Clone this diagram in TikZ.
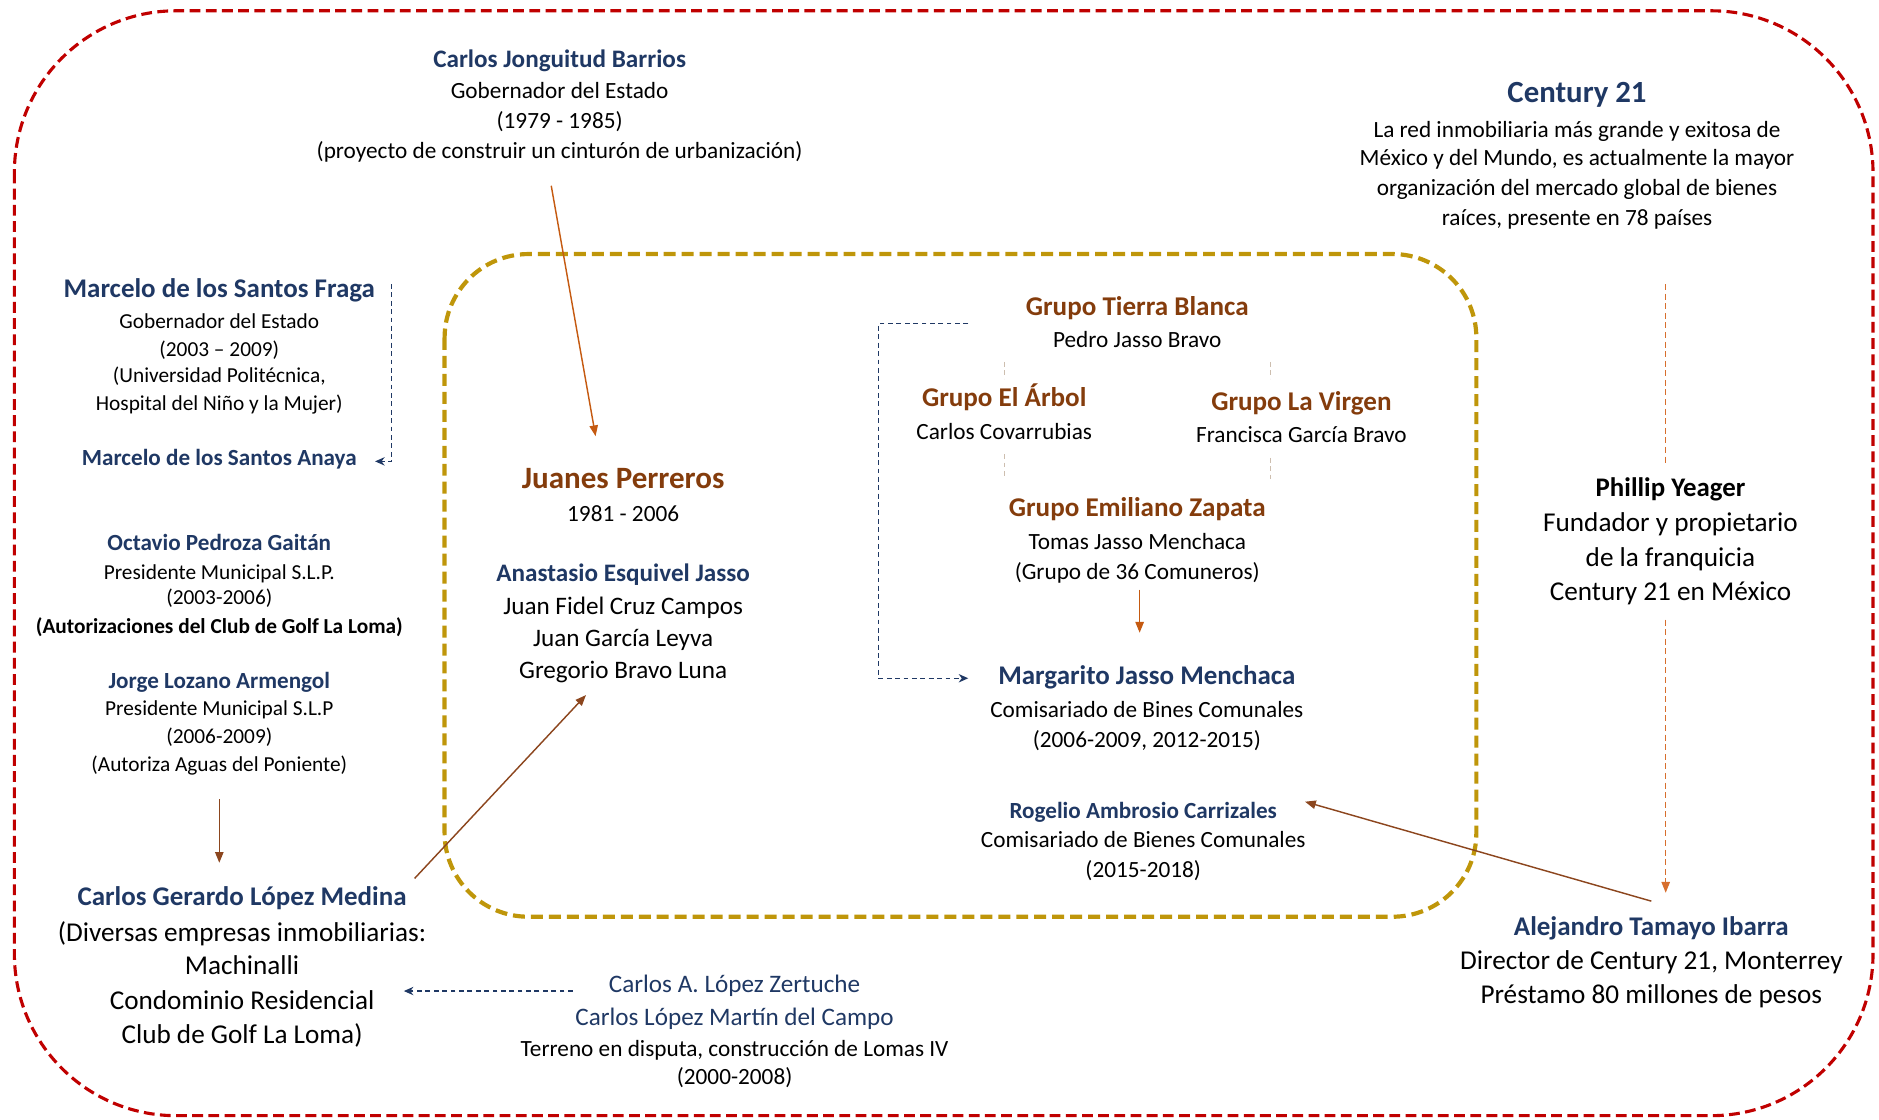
\documentclass[tikz,border=0pt]{standalone}
\usepackage{fontspec}
\setmainfont{Carlito}
\usetikzlibrary{arrows.meta}
\definecolor{navy}{RGB}{31,56,100}
\definecolor{tbrown}{RGB}{132,60,12}
\definecolor{aorange}{RGB}{197,90,17}
\definecolor{abrown}{RGB}{140,70,30}
\definecolor{dorange}{RGB}{215,110,45}
\definecolor{outred}{RGB}{192,0,0}
\definecolor{ingold}{RGB}{191,150,10}
\definecolor{faint}{RGB}{205,190,175}
\begin{document}
\begin{tikzpicture}[x=1pt,y=-1pt,
  txt/.style={inner sep=0pt,anchor=mid,yshift=-5pt},
  bodyS/.style={txt,font=\fontsize{17.8}{22}\selectfont},
  body/.style={txt,font=\fontsize{19.4}{24}\selectfont},
  bodyM/.style={txt,font=\fontsize{21}{26}\selectfont},
  bodyL/.style={txt,font=\fontsize{22.7}{28}\selectfont},
  ttlS/.style={txt,font=\fontsize{19.3}{24}\selectfont\bfseries,text=navy},
  ttlM/.style={txt,font=\fontsize{21}{26}\selectfont\bfseries,text=navy},
  ttlL/.style={txt,font=\fontsize{22.5}{28}\selectfont\bfseries,text=navy},
  ttlXL/.style={txt,font=\fontsize{25.7}{30}\selectfont\bfseries,text=navy},
  grp/.style={txt,font=\fontsize{22.6}{28}\selectfont\bfseries,text=tbrown},
  solidarrow/.style={line width=1.2pt,-{Triangle[length=9pt,width=7pt]}},
  navydash/.style={navy,line width=1pt,dash pattern=on 4pt off 3pt},
  navytip/.style={-{Stealth[length=8pt,width=7pt]}},
]
\useasboundingbox (0,0) rectangle (1568,934);
% frames
\draw[outred,line width=2.6pt,dash pattern=on 9pt off 4.5pt,rounded corners=135pt]
  (12,9) rectangle (1563,931);
\draw[ingold,line width=3.5pt,dash pattern=on 10pt off 5pt,rounded corners=70pt]
  (371,212) rectangle (1232,765);

% Carlos Jonguitud Barrios
\node[ttlM] (cjb) at (467,49) {Carlos Jonguitud Barrios};
\node[body] (cjb1) at (467,75) {Gobernador del Estado};
\node[body] (cjb2) at (467,100) {(1979 - 1985)};
\node[body] (cjb3) at (467,125) {(proyecto de construir un cinturón de urbanización)};

% Century 21
\node[ttlXL] (c21) at (1316,78) {Century 21};
\node[body] (c21a) at (1316,107) {La red inmobiliaria más grande y exitosa de};
\node[body] (c21b) at (1316,131) {México y del Mundo, es actualmente la mayor};
\node[body] (c21c) at (1316,156) {organización del mercado global de bienes};
\node[body] (c21d) at (1316,181) {raíces, presente en 78 países};

% Marcelo
\node[ttlL] (msf) at (183,241) {Marcelo de los Santos Fraga};
\node[bodyS] (msf1) at (183,267) {Gobernador del Estado};
\node[bodyS] (msf2) at (183,290) {(2003 – 2009)};
\node[bodyS] (msf3) at (183,312) {(Universidad Politécnica,};
\node[bodyS] (msf4) at (183,335) {Hospital del Niño y la Mujer)};
\node[ttlS] (msa) at (183,381) {Marcelo de los Santos Anaya};

% Octavio
\node[ttlS] (opg) at (183,452) {Octavio Pedroza Gaitán};
\node[bodyS] (opg1) at (183,476) {Presidente Municipal S.L.P.};
\node[bodyS] (opg2) at (183,497) {(2003-2006)};
\node[bodyS,font=\fontsize{17.8}{22}\selectfont\bfseries] (opg3) at (183,521) {(Autorizaciones del Club de Golf La Loma)};

% Jorge
\node[ttlS] (jla) at (183,567) {Jorge Lozano Armengol};
\node[bodyS] (jla1) at (183,590) {Presidente Municipal S.L.P};
\node[bodyS] (jla2) at (183,613) {(2006-2009)};
\node[bodyS] (jla3) at (183,636) {(Autoriza Aguas del Poniente)};

% Carlos Gerardo
\node[ttlL] (cgl) at (202,748) {Carlos Gerardo López Medina};
\node[bodyL] (cgl1) at (202,778) {(Diversas empresas inmobiliarias:};
\node[bodyL] (cgl2) at (202,806) {Machinalli};
\node[bodyL] (cgl3) at (202,835) {Condominio Residencial};
\node[bodyL] (cgl4) at (202,863) {Club de Golf La Loma)};

% Juanes Perreros
\node[txt,font=\fontsize{25.9}{30}\selectfont\bfseries,text=tbrown] (jp) at (520,400) {Juanes Perreros};
\node[body] (jp1) at (520,428) {1981 - 2006};
\node[ttlM] (aej) at (520,478) {Anastasio Esquivel Jasso};
\node[bodyM] (aej1) at (520,505) {Juan Fidel Cruz Campos};
\node[bodyM] (aej2) at (520,532) {Juan García Leyva};
\node[bodyM] (aej3) at (520,559) {Gregorio Bravo Luna};

% Zertuche
\node[bodyM,text=navy] (clz) at (613,821) {Carlos A. López Zertuche};
\node[bodyM,text=navy] (clz1) at (613,848) {Carlos López Martín del Campo};
\node[body] (clz2) at (613,874) {Terreno en disputa, construcción de Lomas IV};
\node[body] (clz3) at (613,898) {(2000-2008)};

% Grupos
\node[grp] (gtb) at (949,256) {Grupo Tierra Blanca};
\node[body] (gtb1) at (949,283) {Pedro Jasso Bravo};
\node[grp] (gea) at (838,332) {Grupo El Árbol};
\node[body] (gea1) at (838,359) {Carlos Covarrubias};
\node[grp] (glv) at (1086,335) {Grupo La Virgen};
\node[body] (glv1) at (1086,362) {Francisca García Bravo};
\node[grp] (gez) at (949,424) {Grupo Emiliano Zapata};
\node[body] (gez1) at (949,451) {Tomas Jasso Menchaca};
\node[body] (gez2) at (949,476) {(Grupo de 36 Comuneros)};

% Margarito
\node[ttlL] (mjm) at (957,564) {Margarito Jasso Menchaca};
\node[body] (mjm1) at (957,591) {Comisariado de Bines Comunales};
\node[body] (mjm2) at (957,616) {(2006-2009, 2012-2015)};

% Rogelio
\node[ttlS] (rac) at (954,676) {Rogelio Ambrosio Carrizales};
\node[body] (rac1) at (954,700) {Comisariado de Bienes Comunales};
\node[body] (rac2) at (954,725) {(2015-2018)};

% Phillip Yeager
\node[txt,font=\fontsize{22.4}{28}\selectfont\bfseries] (py) at (1394,407) {Phillip Yeager};
\node[bodyL] (py1) at (1394,436) {Fundador y propietario};
\node[bodyL] (py2) at (1394,465) {de la franquicia};
\node[bodyL] (py3) at (1394,494) {Century 21 en México};

% Alejandro
\node[ttlL] (ati) at (1378,773) {Alejandro Tamayo Ibarra};
\node[bodyL] (ati1) at (1378,802) {Director de Century 21, Monterrey};
\node[bodyL] (ati2) at (1378,830) {Préstamo 80 millones de pesos};

% connector end points
\coordinate (cjbS) at (460,155);  \coordinate (jpN) at (497,364);
\coordinate (msfE) at (327,237);  \coordinate (msfC) at (327,385); \coordinate (msaE) at (313,385);
\coordinate (jlaS) at (183,667);  \coordinate (cglN) at (183,720);
\coordinate (cglE) at (346,733);  \coordinate (aejS) at (489,580);
\coordinate (clzW) at (478,827);  \coordinate (cglE2) at (337,827);
\coordinate (gtbW) at (808,270);  \coordinate (gtbC1) at (733,270);
\coordinate (gtbC2) at (733,566); \coordinate (mjmW) at (808,566);
\coordinate (gezS) at (951,492);  \coordinate (mjmN) at (951,528);
\coordinate (c21S) at (1390,237); \coordinate (pyN) at (1390,388);
\coordinate (pyS) at (1390,517);  \coordinate (atiN) at (1390,745);
\coordinate (atiNW) at (1378,752); \coordinate (racE) at (1089,669);

% connectors
\draw[aorange,solidarrow] (cjbS) -- (jpN);
\draw[navydash,navytip] (msfE) -- (msfC) -- (msaE);
\draw[abrown,solidarrow] (jlaS) -- (cglN);
\draw[abrown,solidarrow] (cglE) -- (aejS);
\draw[navydash,navytip] (clzW) -- (cglE2);
\draw[navydash,navytip] (gtbW) -- (gtbC1) -- (gtbC2) -- (mjmW);
\draw[aorange,solidarrow] (gezS) -- (mjmN);
\draw[dorange,line width=1pt,dash pattern=on 5pt off 3pt] (c21S) -- (pyN);
\draw[dorange,line width=1pt,dash pattern=on 5pt off 3pt,-{Triangle[length=9pt,width=7pt]}] (pyS) -- (atiN);
\draw[abrown,solidarrow] (atiNW) -- (racE);

% faint group separators
\coordinate (f1a) at (838,302); \coordinate (f1b) at (838,316);
\coordinate (f2a) at (838,379); \coordinate (f2b) at (838,397);
\coordinate (f3a) at (1060,302); \coordinate (f3b) at (1060,316);
\coordinate (f4a) at (1060,382); \coordinate (f4b) at (1060,400);
\draw[faint,line width=1pt,dash pattern=on 4pt off 3pt] (f1a) -- (f1b) (f2a) -- (f2b) (f3a) -- (f3b) (f4a) -- (f4b);
\end{tikzpicture}
\end{document}
